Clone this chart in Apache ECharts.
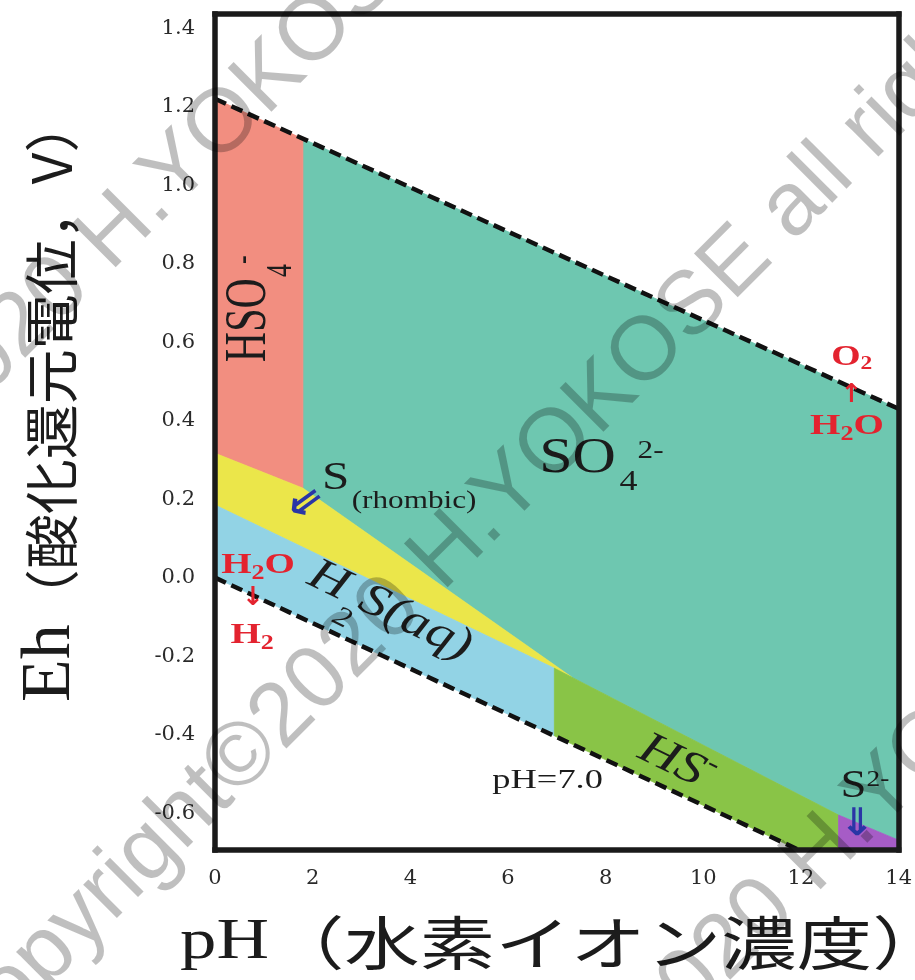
<!DOCTYPE html>
<html><head><meta charset="utf-8">
<script src="https://cdn.jsdelivr.net/npm/echarts@6/dist/echarts.min.js"></script>
<style>html,body{margin:0;padding:0;background:#fff}#c{width:915px;height:980px}</style>
</head><body><div id="c"></div>
<script>
// ---- tick labels ----
const xTickValues = [0, 2, 4, 6, 8, 10, 12, 14];
const yTickValues = [-0.6, -0.4, -0.2, 0.0, 0.2, 0.4, 0.6, 0.8, 1.0, 1.2, 1.4];

// ---- water stability limits [pH, Eh] ----
const upperWaterLine = [[0, 1.22], [14, 0.43]];
const lowerWaterLine = [[0, 0.0], [11.96, -0.694]];

// ---- stability fields (polygon vertices, [pH, Eh]) ----
const fieldHSO4 = [[0, 1.22], [1.8, 1.118], [1.8, 0.228], [0, 0.317]];
const fieldSO4 = [[1.8, 1.118], [14, 0.43], [14, -0.669], [12.77, -0.605], [7.3, -0.253], [1.8, 0.228]];
const fieldS = [[0, 0.317], [1.8, 0.228], [7.3, -0.253], [6.95, -0.231], [0, 0.185]];
const fieldH2S = [[0, 0.185], [6.95, -0.231], [6.95, -0.403], [0, 0.0]];
const fieldHS = [[6.95, -0.231], [12.77, -0.605], [12.77, -0.694], [11.96, -0.694], [6.95, -0.403]];
const fieldS2 = [[12.77, -0.605], [14, -0.669], [14, -0.694], [12.77, -0.694]];

const SERIF = 'Liberation Serif';
const SANS = 'DejaVu Sans';
const CJK = 'Noto Sans CJK JP';
const WM = 'Liberation Sans';
const INK = '#1c1c1c';
const RED = '#e3232f';
const BLUE = '#2a36a6';

const regions = [
  { pts: fieldSO4, color: '#6ec7b0' },
  { pts: fieldHSO4, color: '#f28e80' },
  { pts: fieldS, color: '#ebe64a' },
  { pts: fieldH2S, color: '#92d3e5' },
  { pts: fieldHS, color: '#89c447' },
  { pts: fieldS2, color: '#a65cc6' }
];

function rs(size, extra) { return Object.assign({ fontSize: size, fontFamily: SERIF, fill: INK }, extra || {}); }
function red(size, extra) { return Object.assign({ fontSize: size, fontFamily: SERIF, fontWeight: 'bold', fill: RED }, extra || {}); }

// annotation anchors in data coords [pH, Eh]
const annotations = [
  { at: [6.64, 0.303], text: '{m|SO}{s|4}{p|2-}', align: 'left', rot: 0, sx: 1.2, sy: 1,
    rich: { m: rs(50), s: rs(30, { padding: [46, 0, 0, 3] }), p: rs(26, { padding: [0, 0, 16, 0] }) } },
  { at: [2.19, 0.252], text: '{m|S}{s|(rhombic)}', align: 'left', rot: 0, sx: 1.2, sy: 1,
    rich: { m: rs(41), s: rs(26, { padding: [45, 0, 0, 2] }) } },
  { at: [0.715, 0.549], text: '{m|HSO}{s|4}{p|-}', align: 'left', rot: 90, sx: 1, sy: 1.4,
    rich: { m: rs(42), s: rs(26, { padding: [45, 0, 0, 1] }), p: rs(26, { padding: [0, 0, 9, 0] }) } },
  { at: [1.96, 0.014], text: '{m|H}{s|2}{m|S(aq)}', align: 'left', rot: -26, sx: 1.2, sy: 1,
    rich: { m: rs(46, { fontStyle: 'italic' }), s: rs(28, { fontStyle: 'italic', padding: [56, 0, 0, 0] }) } },
  { at: [8.73, -0.429], text: '{m|HS}{p|-}', align: 'left', rot: -26, sx: 1.2, sy: 1,
    rich: { m: rs(46, { fontStyle: 'italic' }), p: rs(28, { fontStyle: 'italic', padding: [0, 0, 30, 0] }) } },
  { at: [5.68, -0.518], text: '{m|pH=7.0}', align: 'left', rot: 0, sx: 1.3, sy: 1,
    rich: { m: rs(28) } },
  { at: [12.81, -0.532], text: '{m|S}{p|2-}', align: 'left', rot: 0, sx: 1.14, sy: 1,
    rich: { m: rs(41), p: rs(24, { padding: [0, 0, 13, 0] }) } },
  { at: [1.88, 0.187], text: '{m|⇐}', align: 'center', rot: 36, sx: 1, sy: 1.1,
    rich: { m: { fontSize: 42, fontFamily: SANS, fontWeight: 'bold', fill: BLUE } } },
  { at: [13.14, -0.631], text: '{m|⇓}', align: 'center', rot: 0, sx: 1.1, sy: 1,
    rich: { m: { fontSize: 38, fontFamily: SANS, fontWeight: 'bold', fill: BLUE } } },
  { at: [13.04, 0.562], text: '{m|O}{s|2}', align: 'center', rot: 0, sx: 1.3, sy: 1,
    rich: { m: red(29), s: red(18, { padding: [14, 0, 0, 0] }) } },
  { at: [13.04, 0.465], text: '{m|↑}', align: 'center', rot: 0, sx: 1, sy: 1,
    rich: { m: { fontSize: 26, fontFamily: SANS, fontWeight: 'bold', fill: RED } } },
  { at: [12.94, 0.386], text: '{m|H}{s|2}{m|O}', align: 'center', rot: 0, sx: 1.3, sy: 1,
    rich: { m: red(30), s: red(20, { padding: [18, 0, 0, 0] }) } },
  { at: [0.88, 0.032], text: '{m|H}{s|2}{m|O}', align: 'center', rot: 0, sx: 1.3, sy: 1,
    rich: { m: red(30), s: red(20, { padding: [18, 0, 0, 0] }) } },
  { at: [0.78, -0.052], text: '{m|↓}', align: 'center', rot: 0, sx: 1, sy: 1,
    rich: { m: { fontSize: 26, fontFamily: SANS, fontWeight: 'bold', fill: RED } } },
  { at: [0.76, -0.146], text: '{m|H}{s|2}', align: 'center', rot: 0, sx: 1.3, sy: 1,
    rich: { m: red(30), s: red(20, { padding: [18, 0, 0, 0] }) } }
];

// watermark lines: screen anchor of the "H" of H.YOKOSE (layout only)
const watermarks = [[93, 255], [425, 575], [798, 877]];

const frameLine = { show: true, onZero: false, lineStyle: { color: '#1a1a1a', width: 5.5, cap: 'square' } };

const chart = echarts.init(document.getElementById('c'), null, { renderer: 'canvas' });
chart.setOption({
  animation: false,
  backgroundColor: '#ffffff',
  grid: { left: 215, right: 15, top: 14, bottom: 130, containLabel: false },
  xAxis: [
    { type: 'value', min: 0, max: 14, position: 'bottom', z: 10,
      axisLine: frameLine, axisTick: { show: false }, splitLine: { show: false },
      axisLabel: { customValues: xTickValues, margin: 18, fontFamily: 'DejaVu Serif', fontSize: 21, color: '#2a2a2a' } },
    { type: 'value', min: 0, max: 14, position: 'top', z: 10,
      axisLine: frameLine, axisTick: { show: false }, splitLine: { show: false }, axisLabel: { show: false } }
  ],
  yAxis: [
    { type: 'value', min: -0.694, max: 1.436, position: 'left', z: 10,
      axisLine: frameLine, axisTick: { show: false }, splitLine: { show: false },
      axisLabel: { customValues: yTickValues, margin: 20, fontFamily: 'DejaVu Serif', fontSize: 21, color: '#2a2a2a',
        formatter: v => Number(v).toFixed(1) } },
    { type: 'value', min: -0.694, max: 1.436, position: 'right', z: 10,
      axisLine: frameLine, axisTick: { show: false }, splitLine: { show: false }, axisLabel: { show: false } }
  ],
  series: [
    { type: 'custom', coordinateSystem: 'cartesian2d', silent: true, z: 1, clip: true,
      data: regions.map((r, i) => [r.pts[0][0], r.pts[0][1], i]), encode: { x: 0, y: 1 },
      renderItem: (params, api) => {
        const r = regions[params.dataIndex];
        return { type: 'polygon', shape: { points: r.pts.map(p => api.coord(p)) },
          style: { fill: r.color, stroke: r.color, lineWidth: 0.8 } };
      } },
    { type: 'line', data: upperWaterLine, symbol: 'none', silent: true, z: 5,
      lineStyle: { color: '#111', width: 4.5, type: [12, 6] } },
    { type: 'line', data: lowerWaterLine, symbol: 'none', silent: true, z: 5,
      lineStyle: { color: '#111', width: 4.5, type: [12, 6] } }
  ]
});

// text annotations placed through the chart's own coordinate conversion
const annoGraphics = annotations.map(a => {
  const p = chart.convertToPixel({ gridIndex: 0 }, a.at);
  return { type: 'text', x: p[0], y: p[1], rotation: a.rot * Math.PI / 180, scaleX: a.sx, scaleY: a.sy, z: 20,
    silent: true, style: { text: a.text, rich: a.rich, align: a.align, verticalAlign: 'middle' } };
});

const titleGraphics = [
  { type: 'text', x: 51, y: 702, rotation: Math.PI / 2, z: 20,
    style: { text: '{a|Eh}{b|（酸化還元電位，V）}', align: 'left', verticalAlign: 'middle',
      rich: { a: { fontSize: 70, fontFamily: SERIF, fill: INK }, b: { fontSize: 55, fontFamily: CJK, fill: INK } } } },
  { type: 'text', x: 180, y: 943, scaleX: 1.3, z: 20,
    style: { text: '{a|pH}{b|（水素イオン濃度）}', align: 'left', verticalAlign: 'middle',
      rich: { a: { fontSize: 56, fontFamily: SERIF, fill: INK }, b: { fontSize: 58, fontFamily: CJK, fill: INK } } } }
];

const wmGraphics = watermarks.map(w => ({
  type: 'group', x: w[0], y: w[1], rotation: Math.PI / 4, z: 100, silent: true,
  children: [
    { type: 'text', z: 100, style: { text: 'Copyright©2020 ', align: 'right', verticalAlign: 'middle',
        fontSize: 90, fontFamily: WM, fill: 'rgba(0,0,0,0.25)' } },
    { type: 'text', z: 100, style: { text: 'H.YOKOSE all rights reserved', align: 'left', verticalAlign: 'middle',
        fontSize: 90, fontFamily: WM, fill: 'rgba(0,0,0,0.25)' } }
  ]
}));

chart.setOption({ graphic: annoGraphics.concat(titleGraphics, wmGraphics) });
</script></body></html>
